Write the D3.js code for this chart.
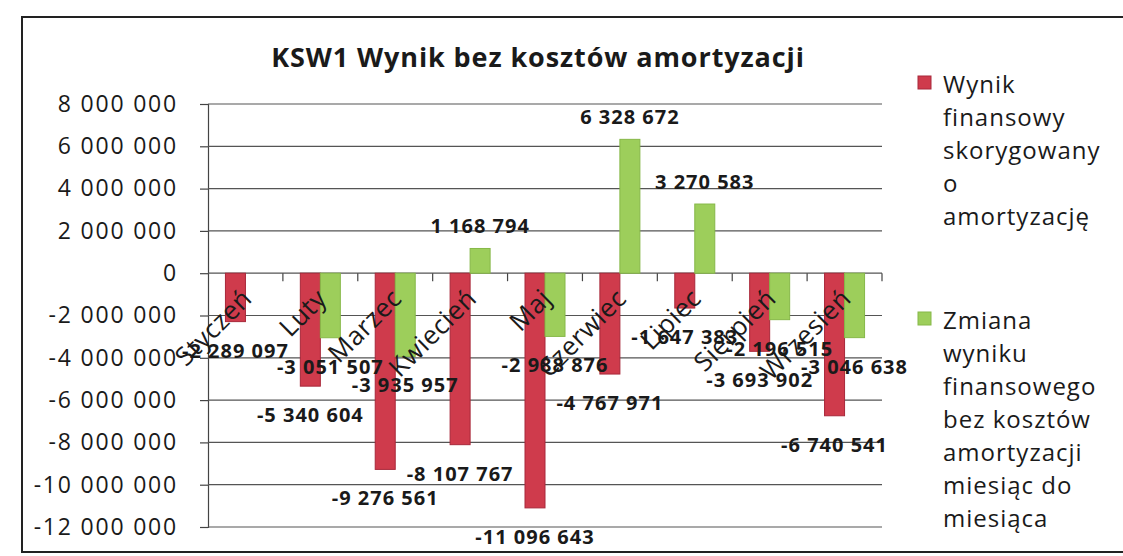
<!DOCTYPE html>
<html>
<head>
  <meta charset="UTF-8" />
  <title>KSW1 Wynik bez kosztów amortyzacji</title>
  <script src="https://d3js.org/d3.v7.min.js"></script>
  <style>
    body { margin: 0; background: #fff; }
    text { font-family: "Open Sans", "Noto Sans", sans-serif; fill: #1a1a1a; }
  </style>
</head>
<body>
  <div id="chart"></div>

  <script>
    // data
    const months = ["Styczeń", "Luty", "Marzec", "Kwiecień", "Maj", "Czerwiec", "Lipiec", "Sierpień", "Wrzesień"];
    const wynik = [-2289097, -5340604, -9276561, -8107767, -11096643, -4767971, -1647383, -3693902, -6740541];
    const zmiana = [null, -3051507, -3935957, 1168794, -2988876, 6328672, 3270583, -2196515, -3046638];
    const yTicks = [8000000, 6000000, 4000000, 2000000, 0, -2000000, -4000000, -6000000, -8000000, -10000000, -12000000];
    const legendRed = ["Wynik", "finansowy", "skorygowany", "o", "amortyzację"];
    const legendGreen = ["Zmiana", "wyniku", "finansowego", "bez kosztów", "amortyzacji", "miesiąc do", "miesiąca"];

    const width = 1123, height = 556;
    const plot = { left: 208, right: 882, top: 104, bottom: 527 };

    const fmt = v => {
      const s = Math.abs(v).toString().replace(/\B(?=(\d{3})+(?!\d))/g, " ");
      return (v < 0 ? "-" : "") + s;
    };

    const svg = d3.select("#chart")
      .append("svg")
      .attr("width", width)
      .attr("height", height);

    // outer chart border
    svg.append("rect")
      .attr("x", 22).attr("y", 17)
      .attr("width", 1130).attr("height", 535)
      .attr("fill", "none")
      .attr("stroke", "#222")
      .attr("stroke-width", 2);

    // title
    svg.append("text")
      .attr("x", 538).attr("y", 67)
      .attr("text-anchor", "middle")
      .style("font-size", "27px")
      .style("font-weight", "bold")
      .style("letter-spacing", "0.9px")
      .text("KSW1 Wynik bez kosztów amortyzacji");

    const xScale = d3.scaleBand()
      .domain(months)
      .range([plot.left, plot.right])
      .padding(0);

    const xSub = d3.scaleBand()
      .domain(["wynik", "zmiana"])
      .range([-20, 20]);

    const yScale = d3.scaleLinear()
      .domain([-12000000, 8000000])
      .range([plot.bottom, plot.top]);

    // gridlines + y axis
    const yAxis = d3.axisLeft(yScale)
      .tickValues(yTicks)
      .tickSize(8)
      .tickPadding(22)
      .tickFormat(fmt);

    const gy = svg.append("g")
      .attr("transform", "translate(" + plot.left + ",0)")
      .call(yAxis);
    gy.select(".domain").attr("stroke", "#444").attr("stroke-width", 1.2);
    gy.selectAll(".tick line").attr("stroke", "#444").attr("stroke-width", 1.2);
    gy.selectAll(".tick text")
      .style("font-size", "23px")
      .style("letter-spacing", "1.8px")
      .attr("fill", "#1a1a1a");

    svg.append("g")
      .selectAll("line")
      .data(yTicks)
      .enter()
      .append("line")
      .attr("x1", plot.left)
      .attr("x2", plot.right)
      .attr("y1", d => yScale(d))
      .attr("y2", d => yScale(d))
      .attr("stroke", "#555")
      .attr("stroke-width", 1.2);

    // category axis at zero with tick marks between months
    const bounds = months.map(m => xScale(m)).concat([plot.right]);
    svg.append("g")
      .selectAll("line")
      .data(bounds.slice(1))
      .enter()
      .append("line")
      .attr("x1", d => d).attr("x2", d => d)
      .attr("y1", yScale(0)).attr("y2", yScale(0) + 8)
      .attr("stroke", "#444")
      .attr("stroke-width", 1.2);

    // bars
    const bars = [];
    months.forEach((m, i) => {
      bars.push({ month: m, key: "wynik", value: wynik[i] });
      if (zmiana[i] !== null) bars.push({ month: m, key: "zmiana", value: zmiana[i] });
    });

    const fills = { wynik: "#cf3b4c", zmiana: "#9dce5b" };
    const strokes = { wynik: "#a8283a", zmiana: "#86b848" };

    svg.append("g")
      .selectAll("rect")
      .data(bars)
      .enter()
      .append("rect")
      .attr("x", d => xScale(d.month) + xScale.bandwidth() / 2 + xSub(d.key))
      .attr("y", d => yScale(Math.max(0, d.value)))
      .attr("width", xSub.bandwidth())
      .attr("height", d => Math.abs(yScale(d.value) - yScale(0)))
      .attr("fill", d => fills[d.key])
      .attr("stroke", d => strokes[d.key])
      .attr("stroke-width", 1);

    // category labels rotated
    svg.append("g")
      .selectAll("text")
      .data(months)
      .enter()
      .append("text")
      .attr("text-anchor", "end")
      .attr("transform", d => "translate(" + (xScale(d) + xScale.bandwidth() / 2 + 8) + "," + (yScale(0) + 27) + ") rotate(-45)")
      .style("font-size", "26px")
      .style("letter-spacing", "0.5px")
      .text(d => d);

    // data labels
    svg.append("g")
      .selectAll("text")
      .data(bars)
      .enter()
      .append("text")
      .attr("x", d => xScale(d.month) + xScale.bandwidth() / 2 + xSub(d.key) + xSub.bandwidth() / 2)
      .attr("y", d => d.value < 0 ? yScale(d.value) + 36 : yScale(d.value) - 15)
      .attr("text-anchor", "middle")
      .style("font-size", "20px")
      .style("font-weight", "bold")
      .style("letter-spacing", "1px")
      .text(d => fmt(d.value));

    // legend
    const legend = svg.append("g");
    function legendEntry(lines, color, stroke, y0) {
      legend.append("rect")
        .attr("x", 918).attr("y", y0 - 8)
        .attr("width", 13).attr("height", 13)
        .attr("fill", color)
        .attr("stroke", stroke);
      legend.append("g")
        .selectAll("text")
        .data(lines)
        .enter()
        .append("text")
        .attr("x", 943)
        .attr("y", (d, i) => y0 + 9 + i * 33)
        .style("font-size", "24px")
        .style("letter-spacing", "1px")
        .text(d => d);
    }
    legendEntry(legendRed, fills.wynik, strokes.wynik, 84);
    legendEntry(legendGreen, fills.zmiana, strokes.zmiana, 320);
  </script>
</body>
</html>
